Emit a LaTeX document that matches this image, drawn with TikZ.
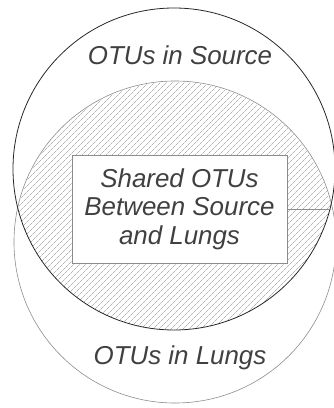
\documentclass[tikz,border=0pt]{standalone}
\usepackage{fontspec}
\setmainfont{Liberation Sans}
\usepackage{tikz}
\usetikzlibrary{positioning,patterns.meta}

\definecolor{inkgray}{gray}{0.25}
\definecolor{rimgray}{gray}{0.55}

\tikzset{
  setcirc/.style={circle,draw,inner sep=0pt,minimum size=#1},
  otulabel/.style={text=inkgray,font=\fontsize{26}{28.5}\selectfont\itshape},
}

\begin{document}
\begin{tikzpicture}[x=1bp,y=1bp]
\useasboundingbox (0,0) rectangle (334,408);
% the two sets
\node[setcirc=322bp,draw=rimgray,line width=0.6pt] (lungs) at (175,166) {};
\begin{scope}
  \clip (174,239) circle (161);
  \fill[pattern={Lines[angle=45,distance=4pt,line width=0.35pt]},pattern color=rimgray] (175,166) circle (160);
\end{scope}
\node[setcirc=322bp,draw=black!85,line width=0.8pt] (source) at (174,239) {};
% labels
\node[otulabel] (srclab) at (180,353) {OTUs in Source};
\node[otulabel] (lnglab) at (180,50) {OTUs in Lungs};
\node[otulabel,draw=rimgray,fill=white,line width=0.6pt,align=center,
      minimum width=215bp,minimum height=108bp] (shared) at (179.5,199)
  {Shared OTUs\\Between Source\\and Lungs};
\coordinate (rim) at (source.-14);
\draw[rimgray,line width=0.6pt] (shared.east) -- (shared.east -| rim);
\end{tikzpicture}
\end{document}
